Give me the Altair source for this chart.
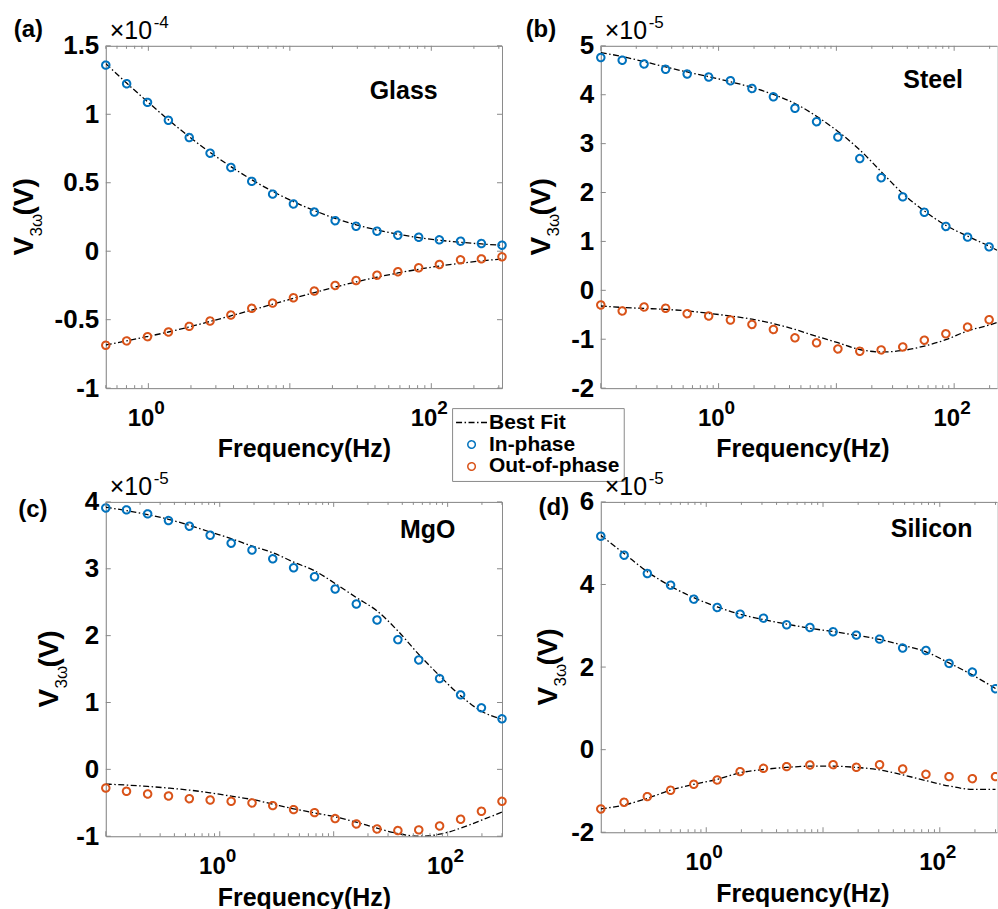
import altair as alt
import pandas as pd

FONT = "Liberation Sans"
AXC = "#8a8a8a"

SERIES = ["Best Fit", "In-phase", "Out-of-phase"]
SERIES_COLORS = ["#000000", "#0072BD", "#D95319"]
SERIES_SHAPES = ["M-4.15,0H4.15", "circle", "circle"]
SERIES_DASHES = [[6, 2.5, 1.5, 2.5], [1, 0], [1, 0]]
FIT_DASH = [6, 2.5, 1.5, 2.5]

X_LABEL_TICKS = [1, 100]
X_LABEL_BASE = ["10", "10"]
X_LABEL_EXP = ["0", "2"]
DECADES = [0.1, 1, 10, 100]
MINOR_MULT = [2, 3, 4, 5, 6, 7, 8, 9]

# ---------------- (a) Glass, values in units of 1e-4 V ----------------
freq_a = [0.5, 0.702, 0.986, 1.385, 1.945, 2.73, 3.83, 5.38, 7.56, 10.6,
          14.9, 20.9, 29.4, 41.3, 58.0, 81.4, 114, 161, 226, 316]
in_a = [1.359, 1.223, 1.087, 0.956, 0.830, 0.716, 0.612, 0.510, 0.417, 0.345,
        0.286, 0.223, 0.182, 0.146, 0.117, 0.102, 0.083, 0.073, 0.056, 0.044]
out_a = [-0.687, -0.655, -0.624, -0.590, -0.549, -0.510, -0.466, -0.417, -0.379, -0.340,
         -0.291, -0.250, -0.214, -0.175, -0.150, -0.121, -0.097, -0.063, -0.056, -0.041]
fitin_a = [1.370, 1.228, 1.092, 0.960, 0.836, 0.722, 0.618, 0.522, 0.437, 0.362,
           0.297, 0.240, 0.193, 0.155, 0.124, 0.099, 0.080, 0.065, 0.053, 0.043]
fitout_a = [-0.685, -0.655, -0.623, -0.590, -0.553, -0.513, -0.472, -0.430, -0.387, -0.344,
            -0.302, -0.262, -0.224, -0.190, -0.159, -0.132, -0.108, -0.088, -0.071, -0.056]

# ---------------- (b) Steel, values in units of 1e-5 V ----------------
freq_b = [0.1, 0.152, 0.233, 0.355, 0.541, 0.824, 1.26, 1.92, 2.92, 4.45,
          6.79, 10.3, 15.8, 24.0, 36.6, 55.8, 85.0, 130, 198]
in_b = [4.760, 4.705, 4.629, 4.520, 4.423, 4.362, 4.286, 4.128, 3.957, 3.723,
        3.449, 3.133, 2.694, 2.303, 1.911, 1.596, 1.307, 1.088, 0.889]
out_b = [-0.299, -0.422, -0.340, -0.367, -0.477, -0.525, -0.607, -0.697, -0.800, -0.971,
         -1.074, -1.198, -1.246, -1.218, -1.157, -1.019, -0.889, -0.752, -0.601]
fitf_b = [0.1, 0.152, 0.233, 0.355, 0.541, 0.824, 1.26, 1.92, 2.92, 4.45,
          6.79, 10.3, 15.8, 24.0, 36.6, 55.8, 85.0, 130, 198, 231]
fitin_b = [4.863, 4.780, 4.677, 4.568, 4.465, 4.369, 4.266, 4.149, 4.005, 3.820,
           3.559, 3.250, 2.872, 2.426, 1.980, 1.623, 1.328, 1.108, 0.902, 0.820]
fitout_b = [-0.32, -0.35, -0.37, -0.39, -0.42, -0.47, -0.525, -0.59, -0.68, -0.80,
            -0.94, -1.07, -1.21, -1.26, -1.23, -1.14, -1.01, -0.83, -0.71, -0.66]

# ---------------- (c) MgO, values in units of 1e-5 V ----------------
freq_c = [0.1, 0.152, 0.233, 0.355, 0.541, 0.824, 1.26, 1.92, 2.92, 4.45,
          6.79, 10.3, 15.8, 24.0, 36.6, 55.8, 85.0, 130, 198, 300]
in_c = [3.910, 3.881, 3.821, 3.721, 3.637, 3.502, 3.383, 3.279, 3.149, 3.015,
        2.881, 2.697, 2.473, 2.234, 1.940, 1.637, 1.358, 1.114, 0.920, 0.756]
out_c = [-0.279, -0.328, -0.368, -0.398, -0.438, -0.458, -0.478, -0.502, -0.542, -0.602,
         -0.647, -0.736, -0.816, -0.891, -0.915, -0.905, -0.846, -0.746, -0.627, -0.478]
fitin_c = [3.92, 3.87, 3.81, 3.74, 3.65, 3.55, 3.45, 3.34, 3.24, 3.10,
           2.97, 2.78, 2.57, 2.37, 2.07, 1.72, 1.40, 1.10, 0.87, 0.75]
fitout_c = [-0.22, -0.235, -0.255, -0.28, -0.31, -0.35, -0.40, -0.45, -0.52, -0.59,
            -0.65, -0.71, -0.79, -0.88, -0.96, -1.00, -0.97, -0.88, -0.76, -0.64]

# ---------------- (d) Silicon, values in units of 1e-5 V ----------------
freq_d = [0.125, 0.198, 0.313, 0.495, 0.782, 1.24, 1.95, 3.09, 4.88, 7.72,
          12.2, 19.3, 30.5, 48.1, 76.1, 120, 190, 300]
in_d = [5.169, 4.710, 4.266, 3.984, 3.645, 3.444, 3.282, 3.185, 3.024, 2.960,
        2.855, 2.774, 2.677, 2.460, 2.403, 2.089, 1.879, 1.476]
out_d = [-1.435, -1.274, -1.137, -0.984, -0.839, -0.734, -0.532, -0.452, -0.411, -0.371,
         -0.363, -0.427, -0.363, -0.468, -0.597, -0.653, -0.702, -0.653]
fitin_d = [5.19, 4.75, 4.31, 3.96, 3.68, 3.46, 3.28, 3.15, 3.04, 2.94,
           2.86, 2.77, 2.67, 2.53, 2.37, 2.10, 1.81, 1.48]
fitout_d = [-1.435, -1.34, -1.18, -0.98, -0.84, -0.72, -0.56, -0.48, -0.43, -0.40,
            -0.40, -0.43, -0.49, -0.61, -0.75, -0.88, -0.96, -0.96]


def txt(text, x, y, size, weight="bold", align="center", baseline="alphabetic", angle=0):
    kw = dict(align=align, baseline=baseline, fontSize=size, fontWeight=weight,
              font=FONT, color="black")
    if angle:
        kw["angle"] = angle
    return alt.Chart(pd.DataFrame({"s": [text]})).mark_text(**kw).encode(
        x=alt.value(x), y=alt.value(y), text="s:N")


def series_enc(legend):
    return dict(
        color=alt.Color("series:N", scale=alt.Scale(domain=SERIES, range=SERIES_COLORS), legend=legend),
        shape=alt.Shape("series:N", scale=alt.Scale(domain=SERIES, range=SERIES_SHAPES), legend=legend),
        strokeDash=alt.StrokeDash("series:N", scale=alt.Scale(domain=SERIES, range=SERIES_DASHES), legend=legend),
    )


def panel(p):
    W, H = p["W"], p["H"]
    xmin, xmax = p["xdom"]
    xs = alt.Scale(type="log", domain=p["xdom"], nice=False)
    ys = alt.Scale(domain=p["ydom"], nice=False, zero=False)
    n = len(p["f"])
    pts = pd.DataFrame({"f": p["f"] * 2, "v": p["vin"] + p["vout"],
                        "series": ["In-phase"] * n + ["Out-of-phase"] * n})
    m = len(p["ffit"])
    fit = pd.DataFrame({"f": p["ffit"] * 2, "v": p["fin"] + p["fout"],
                        "branch": ["in"] * m + ["out"] * m})

    xaxis_kw = dict(orient="bottom", domain=True, domainColor=AXC, domainWidth=1,
                    ticks=False, labels=False, grid=False, title="Frequency(Hz)",
                    titleFont=FONT, titleFontSize=25, titleFontWeight="bold",
                    titleColor="black", titlePadding=49)
    if "titleX" in p:
        xaxis_kw["titleX"] = p["titleX"]
    xaxis = alt.Axis(**xaxis_kw)
    yaxis = alt.Axis(orient="left", domain=True, domainColor=AXC, domainWidth=1,
                     ticks=False, grid=False, values=p["yticks"],
                     labelExpr="toString(datum.value)", labelFont=FONT,
                     labelFontSize=26, labelFontWeight="bold", labelColor="black",
                     labelPadding=7, title=None)
    top_axis = alt.Axis(orient="top", domain=True, domainColor=AXC, domainWidth=1,
                        ticks=False, labels=False, grid=False, title=None)
    right_axis = alt.Axis(orient="right", domain=True, domainColor=AXC, domainWidth=1,
                          ticks=False, labels=False, grid=False, title=None)

    layers = []
    line = alt.Chart(fit).mark_line(color="black", strokeWidth=1.3, strokeDash=FIT_DASH,
                                    interpolate="monotone", clip=True).encode(
        x=alt.X("f:Q", scale=xs, axis=top_axis),
        y=alt.Y("v:Q", scale=ys, axis=right_axis if p["right"] else None),
        detail="branch:N")
    layers.append(line)

    cut = p.get("cut")
    pl = alt.Chart(pts).mark_point(filled=False, size=56, strokeWidth=2, opacity=1)
    if cut is not None:
        pl = pl.transform_filter(alt.datum.f < cut)
    pl = pl.encode(x=alt.X("f:Q", scale=xs, axis=xaxis),
                   y=alt.Y("v:Q", scale=ys, axis=yaxis),
                   **series_enc(p.get("legend")))
    layers.append(pl)
    if cut is not None:
        edge = alt.Chart(pts).mark_point(filled=False, size=56, strokeWidth=2, opacity=1,
                                         clip=True).transform_filter(alt.datum.f >= cut).encode(
            x=alt.X("f:Q", scale=xs, axis=None),
            y=alt.Y("v:Q", scale=ys, axis=None),
            **series_enc(None))
        layers.append(edge)

    # inward ticks
    major = [d for d in DECADES if xmin <= d <= xmax]
    minor = [mm * d for d in DECADES for mm in MINOR_MULT if xmin <= mm * d <= xmax]

    def xr(vals, y1, y2):
        return alt.Chart(pd.DataFrame({"t": vals})).mark_rule(color=AXC, strokeWidth=1).encode(
            x=alt.X("t:Q", scale=xs, axis=None), y=alt.value(y1), y2=alt.value(y2))

    def yr(vals, x1, x2):
        return alt.Chart(pd.DataFrame({"t": vals})).mark_rule(color=AXC, strokeWidth=1).encode(
            y=alt.Y("t:Q", scale=ys, axis=None), x=alt.value(x1), x2=alt.value(x2))

    layers += [xr(major, H, H - 5), xr(minor, H, H - 3), xr(major, 0, 5), xr(minor, 0, 3),
               yr(p["yticks"], 0, 5)]
    if p["right"]:
        layers.append(yr(p["yticks"], W, W - 5))

    # x tick labels 10^0, 10^2
    lab = pd.DataFrame({"t": X_LABEL_TICKS, "base": X_LABEL_BASE, "exp": X_LABEL_EXP})
    layers.append(alt.Chart(lab).mark_text(align="right", baseline="alphabetic", dx=6, fontSize=24,
                                           fontWeight="bold", font=FONT, color="black").encode(
        x=alt.X("t:Q", scale=xs, axis=None), y=alt.value(H + 38), text="base:N"))
    layers.append(alt.Chart(lab).mark_text(align="left", baseline="alphabetic", dx=6, fontSize=19,
                                           fontWeight="bold", font=FONT, color="black").encode(
        x=alt.X("t:Q", scale=xs, axis=None), y=alt.value(H + 26), text="exp:N"))

    # multiplier
    layers.append(txt("\u00d710", 4, -7, 25, weight="normal", align="left"))
    layers.append(txt(p["exp"], 48, -18, 17, weight="normal", align="left"))
    # panel letter, material
    layers.append(txt(p["letter"], p["lx"], p["ly"], 24, baseline="middle"))
    layers.append(txt(p["material"], p["mx"], p["my"], 25))
    # y title V_{3w}(V)
    bx = p["bx"]
    y0 = H / 2 + 38.5
    layers.append(txt("V", bx, y0, 28, align="left", angle=270))
    layers.append(txt("3\u03c9", bx + 9, y0 - 19, 17, weight="normal", align="left", angle=270))
    layers.append(txt("(V)", bx, y0 - 40, 28, align="left", angle=270))

    return alt.layer(*layers).resolve_axis(x="independent", y="independent").properties(
        width=W, height=H)


LEG = alt.Legend(orient="none", legendX=347, legendY=363, title=None, labelFont=FONT,
                 labelFontSize=21, labelFontWeight="bold", labelColor="black",
                 strokeColor=AXC, fillColor="white", padding=4, rowPadding=0,
                 symbolSize=56, symbolOffset=5, labelOffset=7)

pa = panel(dict(W=397, H=343, xdom=[0.5, 316], ydom=[-1, 1.5], yticks=[-1, -0.5, 0, 0.5, 1, 1.5],
                f=freq_a, vin=in_a, vout=out_a, ffit=freq_a, fin=fitin_a, fout=fitout_a,
                right=True, exp="-4", letter="(a)", lx=-77.5, ly=-16, material="Glass",
                mx=298.5, my=53, bx=-73, legend=LEG))
pb = panel(dict(W=397, H=343, xdom=[0.1, 231], ydom=[-2, 5], yticks=[-2, -1, 0, 1, 2, 3, 4, 5],
                f=freq_b, vin=in_b, vout=out_b, ffit=fitf_b, fin=fitin_b, fout=fitout_b,
                right=False, exp="-5", letter="(b)", lx=-60, ly=-16, material="Steel",
                mx=333, my=42, bx=-51, titleX=202))
pc = panel(dict(W=397, H=335, xdom=[0.1, 300], ydom=[-1, 4], yticks=[-1, 0, 1, 2, 3, 4],
                f=freq_c, vin=in_c, vout=out_c, ffit=freq_c, fin=fitin_c, fout=fitout_c,
                right=True, exp="-5", letter="(c)", lx=-73, ly=8, material="MgO",
                mx=322.5, my=36, bx=-48))
pd_ = panel(dict(W=397, H=331, xdom=[0.125, 309], ydom=[-2, 6], yticks=[-2, 0, 2, 4, 6],
                 f=freq_d, vin=in_d, vout=out_d, ffit=freq_d, fin=fitin_d, fout=fitout_d,
                 right=False, exp="-5", letter="(d)", lx=-47, ly=6, material="Silicon",
                 mx=331.5, my=35, bx=-44, titleX=202, cut=299))

RES = dict(color="independent", shape="independent", strokeDash="independent")
chart = alt.concat(pa, pb, pc, pd_, columns=2, spacing={"row": 114, "column": 99},
                   bounds="flush").resolve_scale(**RES).properties(
    padding={"left": 10, "top": 12, "right": 0, "bottom": 0}, background="white"
).configure_view(stroke=None).configure(font=FONT)

chart.save("out.html", embed_options={"renderer": "svg", "actions": False})
